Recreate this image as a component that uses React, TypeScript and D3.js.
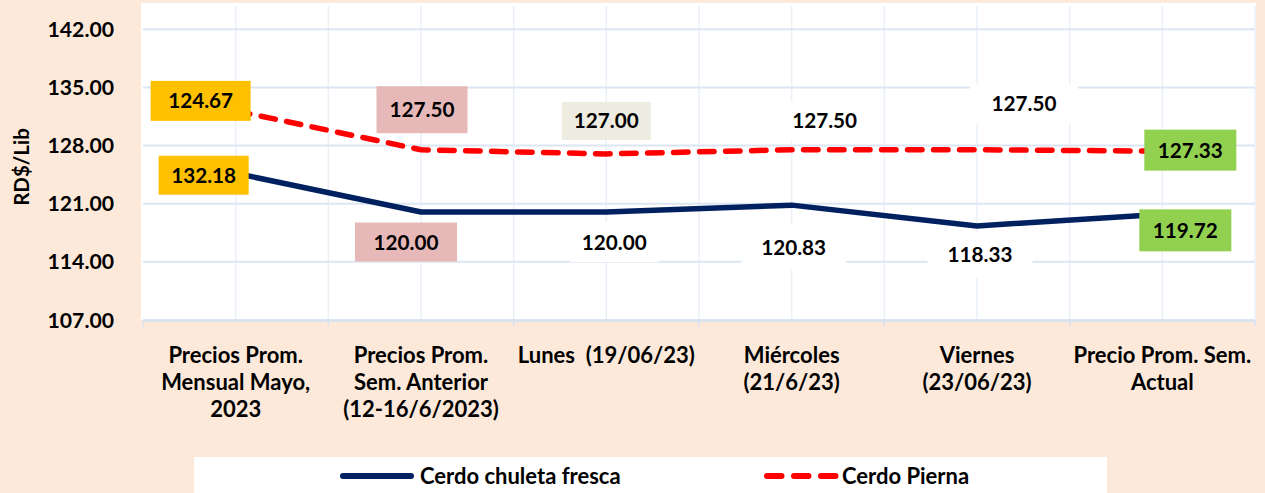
import React from "react";
import * as d3 from "d3";

const categories: string[][] = [
  ["Precios Prom.", "Mensual Mayo,", "2023"],
  ["Precios Prom.", "Sem. Anterior", "(12-16/6/2023)"],
  ["Lunes  (19/06/23)"],
  ["Miércoles", "(21/6/23)"],
  ["Viernes", "(23/06/23)"],
  ["Precio Prom. Sem.", "Actual"],
];
const chuleta = [124.67, 120.0, 120.0, 120.83, 118.33, 119.72];
const pierna = [132.18, 127.5, 127.0, 127.5, 127.5, 127.33];
// Data label texts exactly as printed in the reference (first pair is swapped there)
const chuletaLabels = ["132.18", "120.00", "120.00", "120.83", "118.33", "119.72"];
const piernaLabels = ["124.67", "127.50", "127.00", "127.50", "127.50", "127.33"];
const yTicks = [107, 114, 121, 128, 135, 142];
const seriesNames = ["Cerdo chuleta fresca", "Cerdo Pierna"];

// label styling (offsets from point, box size, fill)
const chuletaLabelStyle = [
  { dx: -32, dy: 2, w: 90, h: 39, fill: "#FFC000" },
  { dx: -15, dy: 30, w: 102, h: 39, fill: "#E6B9B8" },
  { dx: 8, dy: 30, w: 89, h: 40, fill: "#FFFFFF" },
  { dx: 2, dy: 42, w: 105, h: 45, fill: "#FFFFFF" },
  { dx: 3, dy: 29, w: 105, h: 46, fill: "#FFFFFF" },
  { dx: 23, dy: 16, w: 92, h: 42, fill: "#92D050" },
];
const piernaLabelStyle = [
  { dx: -35, dy: -10, w: 100, h: 40, fill: "#FFC000" },
  { dx: 1, dy: -40, w: 91, h: 47, fill: "#E6B9B8" },
  { dx: 0, dy: -33, w: 89, h: 38, fill: "#EEECE1" },
  { dx: 33, dy: -29, w: 100, h: 40, fill: "#FFFFFF" },
  { dx: 47, dy: -46, w: 108, h: 40, fill: "#FFFFFF" },
  { dx: 28, dy: -1, w: 92, h: 41, fill: "#92D050" },
];

const W = 1265;
const H = 493;
const BG = "#FDE9D9";
const FONT = "Lato, 'Open Sans', sans-serif";
const plot = { left: 143, right: 1255, top: 29.3, bottom: 320 };

export default function App() {
  const x = d3
    .scaleBand<number>()
    .domain(categories.map((_, i) => i))
    .range([plot.left, plot.right])
    .padding(0);
  const bw = x.bandwidth();
  const cx = (i: number) => (x(i) as number) + bw / 2;
  const y = d3.scaleLinear().domain([107, 142]).range([plot.bottom, plot.top]);

  const line = d3
    .line<number>()
    .x((_, i) => cx(i))
    .y((d) => y(d));

  const vGrid: number[] = [];
  categories.forEach((_, i) => {
    vGrid.push(cx(i));
    if (i > 0) vGrid.push(x(i) as number);
  });
  vGrid.push(plot.right);

  const renderLabels = (
    vals: number[],
    texts: string[],
    styles: { dx: number; dy: number; w: number; h: number; fill: string }[]
  ) =>
    vals.map((v, i) => {
      const s = styles[i];
      const px = cx(i) + s.dx;
      const py = y(v) + s.dy;
      return (
        <g key={i}>
          <rect x={px - s.w / 2} y={py - s.h / 2} width={s.w} height={s.h} fill={s.fill} />
          <text
            x={px}
            y={py + 7.5}
            textAnchor="middle"
            fontFamily={FONT}
            fontWeight={700}
            fontSize={20.7}
            fill="#000"
          >
            {texts[i]}
          </text>
        </g>
      );
    });

  return (
    <svg
      width={W}
      height={H}
      style={{ position: "absolute", left: 0, top: 0, display: "block" }}
    >
      <rect x={0} y={0} width={W} height={H} fill={BG} />
      <rect x={141} y={3} width={1115} height={317} fill="#FFFFFF" />
      {/* vertical gridlines */}
      {vGrid.map((gx, i) => (
        <line key={"v" + i} x1={gx} x2={gx} y1={6} y2={plot.bottom} stroke="#EAF0F8" strokeWidth={1.5} />
      ))}
      {/* horizontal gridlines */}
      {yTicks.map((t) => (
        <line key={"h" + t} x1={plot.left} x2={plot.right} y1={y(t)} y2={y(t)} stroke="#DCE6F2" strokeWidth={2} />
      ))}
      {/* x axis */}
      <line x1={plot.left} x2={plot.right} y1={plot.bottom + 1} y2={plot.bottom + 1} stroke="#D9E3F0" strokeWidth={2} />
      {categories.map((_, i) => (
        <line key={"t" + i} x1={x(i) as number} x2={x(i) as number} y1={plot.bottom} y2={plot.bottom + 7} stroke="#D9E3F0" strokeWidth={1.5} />
      ))}
      <line x1={plot.right} x2={plot.right} y1={plot.bottom} y2={plot.bottom + 7} stroke="#D9E3F0" strokeWidth={1.5} />
      {/* y tick labels */}
      {yTicks.map((t) => (
        <text
          key={"yl" + t}
          x={114}
          y={y(t) + 7.5}
          textAnchor="end"
          fontFamily={FONT}
          fontWeight={700}
          fontSize={21.2}
          fill="#000"
        >
          {t.toFixed(2)}
        </text>
      ))}
      <text
        transform={`translate(29,167) rotate(-90)`}
        textAnchor="middle"
        fontFamily={FONT}
        fontWeight={700}
        fontSize={20.5}
        fill="#000"
      >
        RD$/Lib
      </text>
      {/* category labels */}
      {categories.map((lines, i) => (
        <text
          key={"c" + i}
          textAnchor="middle"
          fontFamily={FONT}
          fontWeight={700}
          fontSize={22}
          fill="#000"
          style={{ whiteSpace: "pre" }}
        >
          {lines.map((l, j) => (
            <tspan key={j} x={cx(i)} y={363 + j * 27}>
              {l}
            </tspan>
          ))}
        </text>
      ))}
      {/* lines */}
      <path d={line(chuleta) || ""} fill="none" stroke="#002060" strokeWidth={5.5} strokeLinejoin="round" />
      <path
        d={line(pierna) || ""}
        fill="none"
        stroke="#FF0000"
        strokeWidth={5.5}
        strokeDasharray="14.5 11.5"
        strokeLinecap="round"
        strokeLinejoin="round"
      />
      {renderLabels(chuleta, chuletaLabels, chuletaLabelStyle)}
      {renderLabels(pierna, piernaLabels, piernaLabelStyle)}
      {/* legend */}
      <rect x={194} y={457} width={913} height={40} fill="#FFFFFF" />
      <line x1={343} x2={411} y1={476} y2={476} stroke="#002060" strokeWidth={6} strokeLinecap="round" />
      <text x={420} y={484} fontFamily={FONT} fontWeight={700} fontSize={22} fill="#000">
        {seriesNames[0]}
      </text>
      <line
        x1={767}
        x2={836}
        y1={476}
        y2={476}
        stroke="#FF0000"
        strokeWidth={6}
        strokeDasharray="14.5 12.5"
        strokeLinecap="round"
      />
      <text x={842} y={484} fontFamily={FONT} fontWeight={700} fontSize={22} fill="#000">
        {seriesNames[1]}
      </text>
    </svg>
  );
}
